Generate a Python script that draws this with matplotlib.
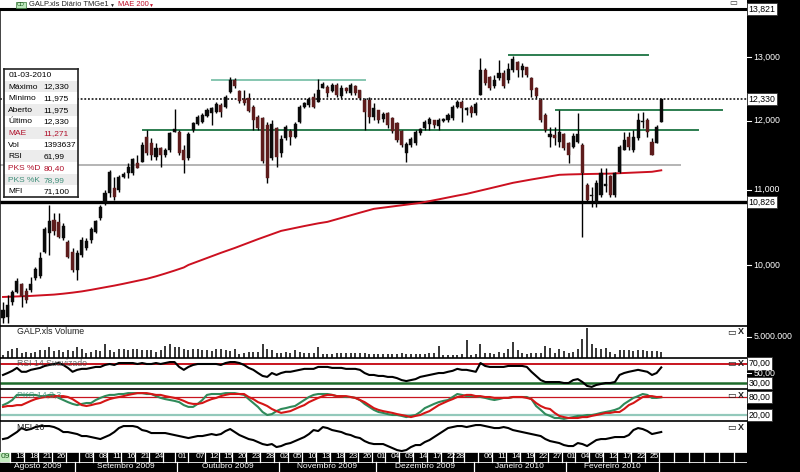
import numpy as np
import pandas as pd
import matplotlib
matplotlib.use('Agg')
import matplotlib.pyplot as plt
from matplotlib.patches import Rectangle
import matplotlib.transforms as mtransforms

plt.rcParams['font.family'] = ['Liberation Sans', 'DejaVu Sans']

# ---------------- data ----------------
opens = [9.351, 9.363, 9.543, 9.664, 9.762, 9.677, 9.689, 9.837, 9.862, 10.166,
         10.413, 10.586, 10.559, 10.347, 10.295, 10.166, 9.937, 10.127, 10.217, 10.321,
         10.426, 10.613, 10.830, 10.955, 11.024, 10.996, 11.179, 11.236, 11.236, 11.378,
         11.392, 11.759, 11.669, 11.465, 11.596, 11.494, 11.567, 11.834, 11.834, 11.567,
         11.450, 11.864, 11.954, 11.984, 12.076, 12.122, 12.137, 12.245, 12.214, 12.448,
         12.639, 12.464, 12.339, 12.354, 12.214, 12.060, 12.045, 11.939, 11.450, 11.894,
         11.523, 11.744, 11.849, 11.759, 11.984, 12.214, 12.245, 12.370, 12.292, 12.511,
         12.527, 12.464, 12.559, 12.386, 12.511, 12.432, 12.543, 12.480, 12.323, 12.323,
         12.060, 12.168, 12.030, 12.122, 12.045, 11.969, 11.849, 11.523, 11.640, 11.669,
         11.819, 11.894, 11.954, 12.014, 11.924, 11.999, 12.014, 12.045, 12.214, 12.292,
         12.168, 12.214, 12.122, 12.401, 12.800, 12.687, 12.543, 12.671, 12.752, 12.639,
         12.800, 12.930, 12.800, 12.849, 12.671, 12.511, 12.323, 12.091, 11.759, 11.789,
         11.684, 11.804, 11.669, 11.611, 11.684, 11.640, 11.066, 10.913, 10.817, 10.927,
         11.052, 11.193, 10.927, 11.250, 11.567, 11.759, 11.567, 11.744, 11.984, 12.014,
         11.684, 11.669, 11.975]
highs = [9.543, 9.627, 9.689, 9.837, 9.775, 9.713, 9.849, 9.975, 10.166, 10.493,
         10.789, 10.680, 10.680, 10.546, 10.321, 10.217, 10.192, 10.360, 10.347, 10.493,
         10.586, 10.789, 10.996, 11.278, 11.179, 11.207, 11.250, 11.378, 11.450, 11.494,
         11.684, 11.864, 11.744, 11.669, 11.611, 11.596, 11.834, 12.183, 11.864, 11.640,
         11.834, 11.984, 12.091, 12.122, 12.199, 12.214, 12.292, 12.276, 12.401, 12.687,
         12.671, 12.480, 12.480, 12.432, 12.245, 12.091, 12.060, 11.984, 12.014, 11.909,
         11.789, 11.939, 11.879, 11.984, 12.245, 12.292, 12.370, 12.432, 12.655, 12.607,
         12.559, 12.591, 12.591, 12.559, 12.527, 12.591, 12.559, 12.480, 12.354, 12.370,
         12.276, 12.168, 12.137, 12.137, 12.060, 11.984, 11.864, 11.684, 11.759, 11.864,
         11.894, 12.014, 12.060, 12.014, 12.045, 12.045, 12.122, 12.245, 12.323, 12.323,
         12.214, 12.245, 12.292, 12.996, 12.833, 12.703, 12.719, 12.963, 12.800, 12.914,
         13.029, 12.946, 12.914, 12.849, 12.687, 12.527, 12.354, 12.122, 11.909, 11.909,
         12.168, 11.819, 11.684, 11.819, 12.122, 11.669, 11.094, 11.038, 11.136, 11.306,
         11.306, 11.207, 11.250, 11.640, 11.834, 11.834, 11.864, 12.122, 12.137, 12.045,
         11.744, 11.939, 12.330]
lows = [9.291, 9.291, 9.506, 9.652, 9.482, 9.530, 9.664, 9.812, 9.837, 10.153,
        10.127, 10.387, 10.347, 10.321, 10.088, 9.912, 9.812, 10.101, 10.192, 10.282,
        10.413, 10.586, 10.789, 10.899, 10.858, 10.968, 11.165, 11.165, 11.207, 11.306,
        11.392, 11.494, 11.421, 11.421, 11.320, 11.465, 11.538, 11.834, 11.494, 11.235,
        11.421, 11.834, 11.939, 11.969, 12.060, 11.939, 12.122, 12.060, 12.199, 12.432,
        12.511, 12.276, 12.245, 12.137, 11.864, 11.864, 11.378, 11.094, 11.421, 11.320,
        11.465, 11.714, 11.640, 11.744, 11.969, 12.199, 12.214, 12.199, 12.292, 12.511,
        12.370, 12.448, 12.370, 12.354, 12.432, 12.401, 12.401, 12.323, 11.864, 11.969,
        12.014, 11.969, 11.984, 11.894, 11.819, 11.684, 11.611, 11.392, 11.611, 11.640,
        11.789, 11.864, 11.864, 11.894, 11.864, 11.984, 11.984, 12.014, 12.199, 11.984,
        12.091, 12.060, 12.091, 12.401, 12.559, 12.480, 12.511, 12.639, 12.511, 12.591,
        12.768, 12.687, 12.687, 12.687, 12.370, 12.354, 11.984, 11.834, 11.611, 11.640,
        11.611, 11.567, 11.378, 11.596, 11.669, 10.360, 10.830, 10.762, 10.762, 10.899,
        10.968, 10.899, 10.899, 11.235, 11.567, 11.567, 11.538, 11.714, 11.894, 11.759,
        11.494, 11.669, 11.975]
closes = [9.446, 9.506, 9.664, 9.800, 9.615, 9.567, 9.762, 9.950, 10.088, 10.466,
          10.573, 10.440, 10.360, 10.506, 10.101, 9.937, 10.153, 10.321, 10.308, 10.466,
          10.573, 10.762, 10.955, 11.250, 10.899, 11.179, 11.221, 11.320, 11.435, 11.306,
          11.640, 11.523, 11.494, 11.596, 11.494, 11.567, 11.819, 11.879, 11.523, 11.421,
          11.804, 11.969, 12.060, 12.091, 12.168, 12.199, 12.261, 12.137, 12.370, 12.639,
          12.543, 12.307, 12.276, 12.152, 12.014, 11.894, 11.407, 11.165, 11.954, 11.465,
          11.729, 11.909, 11.759, 11.954, 12.214, 12.276, 12.339, 12.214, 12.480, 12.575,
          12.432, 12.559, 12.401, 12.511, 12.464, 12.559, 12.432, 12.354, 12.137, 12.060,
          12.199, 12.014, 12.106, 11.939, 11.849, 11.714, 11.640, 11.655, 11.729, 11.834,
          11.879, 11.984, 12.030, 11.939, 12.014, 12.030, 12.091, 12.214, 12.292, 12.199,
          12.199, 12.122, 12.261, 12.800, 12.591, 12.511, 12.639, 12.752, 12.543, 12.816,
          12.979, 12.800, 12.865, 12.719, 12.480, 12.386, 12.014, 11.864, 11.804, 11.744,
          11.834, 11.596, 11.494, 11.774, 11.804, 11.235, 10.858, 10.927, 11.094, 11.235,
          11.080, 10.927, 11.235, 11.611, 11.714, 11.611, 11.759, 12.014, 11.999, 11.834,
          11.494, 11.909, 12.330]
mae200 = [9.603, 9.605, 9.607, 9.609, 9.611, 9.613, 9.616, 9.619, 9.622, 9.625,
          9.627, 9.632, 9.637, 9.643, 9.649, 9.656, 9.663, 9.671, 9.680, 9.690,
          9.701, 9.711, 9.721, 9.731, 9.742, 9.753, 9.765, 9.777, 9.789, 9.800,
          9.812, 9.826, 9.841, 9.857, 9.874, 9.892, 9.910, 9.929, 9.948, 9.968,
          10.000, 10.022, 10.044, 10.066, 10.088, 10.110, 10.132, 10.154, 10.175, 10.196,
          10.217, 10.240, 10.263, 10.286, 10.309, 10.331, 10.353, 10.375, 10.397, 10.419,
          10.440, 10.453, 10.466, 10.479, 10.492, 10.504, 10.516, 10.528, 10.540, 10.550,
          10.560, 10.578, 10.595, 10.612, 10.630, 10.648, 10.665, 10.683, 10.700, 10.718,
          10.735, 10.743, 10.751, 10.759, 10.767, 10.775, 10.783, 10.792, 10.800, 10.808,
          10.816, 10.828, 10.840, 10.852, 10.865, 10.878, 10.891, 10.904, 10.916, 10.928,
          10.940, 10.955, 10.970, 10.985, 11.000, 11.015, 11.031, 11.047, 11.063, 11.078,
          11.094, 11.106, 11.118, 11.130, 11.141, 11.152, 11.163, 11.175, 11.186, 11.197,
          11.207, 11.210, 11.212, 11.214, 11.216, 11.217, 11.218, 11.219, 11.220, 11.221,
          11.222, 11.224, 11.227, 11.230, 11.233, 11.236, 11.239, 11.242, 11.245, 11.248,
          11.250, 11.260, 11.271]
volume_m = [0.8, 1.7, 2.1, 2.3, 1.25, 1.5, 1.25, 1.5, 1.8, 1.8,
            2.5, 1.7, 1.8, 1.5, 1.8, 1.7, 2.5, 2.1, 1.25, 1.5,
            1.8, 1.7, 3.2, 1.8, 1.5, 2.1, 2.1, 1.8, 2.1, 2.1,
            1.8, 1.8, 1.8, 1.5, 1.8, 2.9, 3.2, 2.7, 2.5, 2.1,
            1.8, 2.1, 2.1, 1.8, 1.8, 1.7, 2.1, 2.1, 1.8, 1.7,
            2.1, 1.0, 1.25, 1.5, 1.5, 1.5, 3.3, 2.1, 1.8, 1.25,
            1.25, 1.5, 1.25, 1.8, 1.5, 1.25, 1.25, 1.25, 2.5, 1.0,
            1.0, 1.0, 1.25, 1.25, 1.25, 1.25, 1.25, 1.25, 1.25, 1.0,
            1.0, 1.0, 1.0, 1.0, 1.0, 1.0, 1.25, 1.0, 1.0, 1.0,
            1.0, 1.0, 1.25, 1.25, 2.9, 0.8, 0.7, 0.8, 0.8, 1.0,
            4.2, 0.7, 1.0, 3.2, 1.25, 1.25, 1.0, 1.5, 1.25, 2.1,
            3.75, 1.8, 1.25, 1.0, 1.25, 1.25, 1.25, 2.9, 2.3, 1.25,
            2.1, 1.7, 1.25, 1.5, 2.1, 4.6, 7.1, 3.2, 2.3, 2.1,
            2.3, 1.5, 1.0, 1.8, 1.8, 1.8, 1.7, 1.8, 1.8, 1.7,
            1.7, 1.7, 1.393637]
rsi = [46.5, 50.5, 55, 61, 53, 53, 57, 59, 61, 65,
       67, 69, 71, 67, 61, 53, 57, 59, 59, 61,
       63, 63, 67, 69, 67, 71, 71, 71, 71, 69,
       71, 69, 69, 71, 69, 71, 73, 73, 63, 57,
       63, 67, 69, 69, 69, 69, 69, 67, 71, 73,
       73, 71, 67, 61, 57, 50.5, 44.5, 42.5, 50.5, 46.5,
       50.5, 53, 53, 55, 57, 59, 59, 59, 63, 63,
       63, 61, 61, 61, 59, 59, 59, 57, 50.5, 46.5,
       46.5, 44.5, 44.5, 42.5, 42.5, 40, 36, 34, 36, 38,
       42.5, 44.5, 46.5, 48.5, 50.5, 50.5, 53, 55, 59, 57,
       57, 55, 53, 71, 65, 63, 63, 63, 63, 65,
       65, 65, 65, 63, 53, 44.5, 36, 32, 32, 32,
       32, 30, 30, 36, 38, 32, 24, 22, 26, 28,
       30, 30, 32, 46.5, 50.5, 53, 55, 57, 55, 53,
       46.5, 50.5, 61.99]
pks_k = [53, 60, 70, 87, 87, 87, 87, 87, 83, 83,
         87, 87, 77, 70, 63, 57, 53, 57, 60, 60,
         70, 77, 83, 87, 87, 90, 90, 93, 93, 93,
         93, 90, 90, 83, 77, 73, 70, 67, 63, 53,
         47, 47, 57, 70, 87, 90, 90, 90, 93, 93,
         93, 90, 87, 73, 60, 47, 30, 20, 23, 33,
         40, 43, 47, 50, 60, 70, 80, 87, 90, 90,
         90, 87, 83, 83, 80, 80, 77, 70, 57, 47,
         37, 30, 27, 23, 20, 20, 17, 13, 17, 20,
         30, 43, 50, 57, 63, 67, 70, 80, 90, 87,
         83, 83, 83, 80, 77, 73, 70, 73, 77, 77,
         80, 80, 80, 80, 73, 50, 37, 23, 17, 10,
         10, 7, 10, 13, 17, 17, 20, 20, 23, 27,
         30, 33, 37, 43, 57, 67, 77, 83, 90, 87,
         77, 77, 78.99]
pks_d = [47, 50, 50, 53, 53, 60, 67, 73, 77, 80,
         80, 83, 83, 83, 80, 73, 63, 53, 50, 53,
         57, 60, 67, 73, 77, 80, 83, 87, 90, 93,
         93, 93, 90, 87, 87, 83, 80, 77, 73, 67,
         60, 57, 57, 60, 67, 73, 77, 83, 87, 90,
         90, 90, 90, 80, 73, 63, 57, 50, 40, 33,
         27, 30, 33, 40, 47, 53, 63, 70, 77, 83,
         87, 87, 83, 83, 83, 80, 77, 70, 63, 53,
         43, 37, 33, 30, 27, 23, 20, 17, 13, 17,
         20, 27, 33, 43, 53, 60, 67, 73, 80, 83,
         87, 87, 83, 83, 80, 80, 77, 77, 77, 77,
         80, 80, 80, 77, 73, 60, 50, 43, 40, 27,
         17, 13, 10, 10, 10, 13, 13, 17, 20, 23,
         27, 27, 30, 30, 40, 53, 60, 70, 80, 83,
         83, 80, 80.40]
mfi = [57, 59, 65, 71, 79, 75, 77, 81, 83, 83,
       83, 81, 77, 71, 71, 69, 67, 63, 63, 61,
       59, 57, 61, 65, 71, 79, 83, 83, 83, 81,
       75, 73, 69, 69, 69, 69, 67, 65, 63, 61,
       59, 61, 63, 63, 65, 67, 65, 67, 73, 77,
       71, 65, 61, 57, 55, 51, 47, 45, 47, 41,
       43, 47, 49, 53, 57, 61, 67, 75, 73, 81,
       79, 75, 73, 71, 67, 65, 61, 59, 53, 49,
       47, 47, 47, 43, 39, 35, 33, 35, 41, 45,
       45, 51, 55, 61, 67, 73, 79, 81, 83, 83,
       81, 83, 85, 85, 83, 81, 79, 79, 81, 79,
       75, 73, 71, 69, 67, 65, 63, 57, 53, 51,
       49, 45, 43, 43, 49, 47, 43, 49, 55, 57,
       57, 59, 61, 61, 61, 65, 75, 79, 77, 73,
       67, 69, 71.1]

# horizontal study lines: level, start (bar index), end (bar index), colour
hl_levels = [12.635, 11.864, 13.037, 12.168, 11.349]
hl_start = [45.1, 30.2, 109.2, 119.3, -0.65]
hl_end = [78.1, 150.0, 139.2, 155.1, 146.1]
hl_colors = ['#86c6b0', '#2c7d50', '#2c7d50', '#2c7d50', '#b4b4b4']
ref_level = 10.826        # thick reference line
scale_top = 13.821

day_labels = [('2009-08-10', '09'), ('2009-08-13', '13'), ('2009-08-18', '18'), ('2009-08-21', '21'),
              ('2009-08-26', '26'), ('2009-08-31', ''), ('2009-09-03', '03'), ('2009-09-08', '08'),
              ('2009-09-11', '11'), ('2009-09-16', '16'), ('2009-09-21', '21'), ('2009-09-24', '24'),
              ('2009-09-29', ''), ('2009-10-01', '01'), ('2009-10-07', '07'), ('2009-10-12', '12'),
              ('2009-10-15', '15'), ('2009-10-20', '20'), ('2009-10-23', '23'), ('2009-10-28', '28'),
              ('2009-11-02', '02'), ('2009-11-05', '05'), ('2009-11-10', '10'), ('2009-11-13', '13'),
              ('2009-11-18', '18'), ('2009-11-23', '23'), ('2009-11-26', '26'), ('2009-12-01', '01'),
              ('2009-12-04', '04'), ('2009-12-09', '09'), ('2009-12-14', '14'), ('2009-12-17', '17'),
              ('2009-12-22', '22'), ('2009-12-28', '28'), ('2009-12-31', ''), ('2010-01-06', '06'),
              ('2010-01-11', '11'), ('2010-01-14', '14'), ('2010-01-19', '19'), ('2010-01-22', '22'),
              ('2010-01-27', '27'), ('2010-02-01', '01'), ('2010-02-04', '04'), ('2010-02-09', '09'),
              ('2010-02-12', '12'), ('2010-02-17', '17'), ('2010-02-22', '22'), ('2010-02-25', '25')]
month_names = ['Agosto 2009', 'Setembro 2009', 'Outubro 2009', 'Novembro 2009',
               'Dezembro 2009', 'Janeiro 2010', 'Fevereiro 2010']

trading = pd.bdate_range('2009-08-10', '2010-03-01')
trading = trading.drop(pd.to_datetime(['2009-12-24', '2009-12-25', '2010-01-01']))

# ---------------- figure ----------------
W, H = 800, 472
fig = plt.figure(figsize=(8, 4.72), dpi=100, facecolor='black')


def px_axes(x0, y0, x1, y1):
    return fig.add_axes([x0 / W, 1 - y1 / H, (x1 - x0) / W, (y1 - y0) / H])


def ftext(x, y, s, **kw):
    return fig.text(x / W, 1 - y / H, s, **kw)


def comma(v, d):
    return f"{v:.{d}f}".replace('.', ',')


n = len(closes)
idx = np.arange(n)
XL = (-0.65, 160.5)
RX = 747
FS = 6.3
UP, DOWN = '#0a0a0a', '#5e1c1c'


def clean(ax, top=True, lw=1.0):
    ax.set_xlim(*XL)
    ax.set_xticks([])
    ax.set_yticks([])
    ax.set_facecolor('white')
    for s in ['right', 'bottom']:
        ax.spines[s].set_visible(False)
    ax.spines['left'].set_color('#222222')
    ax.spines['left'].set_linewidth(1.2)
    ax.spines['top'].set_visible(top)
    ax.spines['top'].set_color('black')
    ax.spines['top'].set_linewidth(lw)


def right_box(ax, v, s):
    tr = mtransforms.blended_transform_factory(ax.transAxes, ax.transData)
    ax.text(1.002, v, s, transform=tr, fontsize=FS, va='center', ha='left', color='black',
            clip_on=False, bbox=dict(boxstyle='square,pad=0.18', fc='white', ec='#333333', lw=0.6))


def right_tick(ax, v, s):
    tr = mtransforms.blended_transform_factory(ax.transAxes, ax.transData)
    ax.plot([1.0, 1.006], [v, v], transform=tr, color='white', lw=0.8, clip_on=False)
    ax.text(1.009, v, s, transform=tr, fontsize=FS, va='center', ha='left', color='white',
            clip_on=False)


# title strip
ax_t = px_axes(0, 0, RX, 9)
ax_t.set_facecolor('white')
ax_t.set_xticks([]); ax_t.set_yticks([])
for s in ax_t.spines.values():
    s.set_visible(False)
ftext(17, 5, 'CD', fontsize=4, color='#1a5a1a', va='center', ha='left',
      bbox=dict(boxstyle='square,pad=0.15', fc='#bfeabf', ec='#3a7a3a', lw=0.5))
ftext(29, 5, 'GALP.xls Diário TMGe1', fontsize=5.4, color='#222222', va='center', ha='left')
ftext(110, 5.5, '▼', fontsize=3.6, color='#222222', va='center', ha='left')
ftext(118, 5, 'MAE 200', fontsize=5.4, color='#c0102a', va='center', ha='left')
ftext(149, 5.5, '▼', fontsize=3.6, color='#c0102a', va='center', ha='left')
ftext(733, 4, '▭', fontsize=6, color='#333333', va='center', ha='center')

# price panel
ax_p = px_axes(0, 9, RX, 326)
clean(ax_p, top=True, lw=2.2)
ax_p.set_yscale('log')
ax_p.set_ylim(9.257, scale_top)
ax_p.minorticks_off()
ax_p.set_yticks([])

for lv, a, b, c in zip(hl_levels, hl_start, hl_end, hl_colors):
    ax_p.plot([a, b], [lv, lv], color=c, lw=1.4, zorder=1)
ax_p.axhline(ref_level, color='black', lw=2.4, zorder=1)
ax_p.axhline(closes[-1], color='black', lw=1.1, ls=(0, (1.2, 1.2)), zorder=1)
ax_p.plot(idx, mae200, color='#cc1020', lw=1.4, zorder=2)

for i in range(n):
    o, h, l, c = opens[i], highs[i], lows[i], closes[i]
    col = UP if c >= o else DOWN
    ax_p.vlines(i, l, h, color='black', lw=1.0, zorder=3)
    lo, hi = min(o, c), max(o, c)
    if hi - lo < 0.004:
        ax_p.hlines(o, i - 0.33, i + 0.33, color='black', lw=1.0, zorder=4)
    else:
        ax_p.add_patch(Rectangle((i - 0.33, lo), 0.66, hi - lo, fc=col, ec=col, lw=0.3, zorder=4))

for v in [10, 11, 12, 13]:
    right_tick(ax_p, v, comma(v, 3))
right_box(ax_p, scale_top, comma(scale_top, 3))
right_box(ax_p, closes[-1], comma(closes[-1], 3))
right_box(ax_p, ref_level, comma(ref_level, 3))

# info box
ax_i = px_axes(4, 69, 78, 197)
ax_i.set_xlim(0, 1); ax_i.set_ylim(11, 0)
ax_i.set_xticks([]); ax_i.set_yticks([])
for s in ax_i.spines.values():
    s.set_color('#222222'); s.set_linewidth(1.2)
rows = [(trading[-1].strftime('%d-%m-%Y'), '', 'black'),
        ('Máximo', comma(highs[-1], 3), 'black'),
        ('Mínimo', comma(lows[-1], 3), 'black'),
        ('Aberto', comma(opens[-1], 3), 'black'),
        ('Último', comma(closes[-1], 3), 'black'),
        ('MAE', comma(mae200[-1], 3), '#b0102a'),
        ('Vol', f"{round(volume_m[-1] * 1e6):d}", 'black'),
        ('RSI', comma(rsi[-1], 2), 'black'),
        ('PKS %D', comma(pks_d[-1], 2), '#b0102a'),
        ('PKS %K', comma(pks_k[-1], 2), '#3f8f7a'),
        ('MFI', comma(mfi[-1], 3), 'black')]
for r, (lab, val, col) in enumerate(rows):
    if r % 2 == 1:
        ax_i.add_patch(Rectangle((0, r), 1, 1, fc='#ececec', ec='none'))
    ax_i.text(0.06, r + 0.55, lab, fontsize=6.0, color=col, va='center', ha='left')
    ax_i.text(0.53, r + 0.55, val, fontsize=6.0, color=col, va='center', ha='left')

# volume panel
ax_v = px_axes(0, 326, RX, 358)
clean(ax_v, lw=1.2)
ax_v.set_ylim(0, 7.56)
ax_v.vlines(idx, 0, volume_m, color='black', lw=1.1)
right_tick(ax_v, 5.0, f"{5000000:,}".replace(',', '.'))

# RSI panel
ax_r = px_axes(0, 358, RX, 389)
clean(ax_r, lw=1.2)
ax_r.set_ylim(17.7, 81.3)
ax_r.axhline(70, color='#c8141e', lw=1.4)
ax_r.axhline(30, color='#1d6a2a', lw=1.8)
ax_r.plot(idx, rsi, color='black', lw=1.5)
right_box(ax_r, 70, '70,00')
right_tick(ax_r, 50, '50,00')
right_box(ax_r, 30, '30,00')

# stochastic panel
ax_s = px_axes(0, 389, RX, 421)
clean(ax_s, lw=1.2)
ax_s.set_ylim(0, 106.7)
ax_s.axhline(80, color='#c8141e', lw=0.9)
ax_s.axhline(20, color='#93c9bb', lw=1.6)
ax_s.plot(idx, pks_k, color='#2f8a5a', lw=1.5)
ax_s.plot(idx, pks_d, color='#d41616', lw=1.5)
right_box(ax_s, 80, '80,00')
right_box(ax_s, 20, '20,00')

# MFI panel
ax_m = px_axes(0, 421, RX, 452)
clean(ax_m, lw=1.2)
ax_m.set_ylim(31.1, 93.1)
ax_m.plot(idx, mfi, color='black', lw=1.5)

# panel captions and icons
ftext(17, 332, 'GALP.xls Volume', fontsize=FS, color='#222222', va='center', ha='left')
ftext(17, 363, 'RSI 14 Suavizado', fontsize=FS, color='#444444', va='center', ha='left', alpha=0.8)
ftext(17, 395, 'PKS 14,3,3', fontsize=FS, color='#3f8f7a', va='center', ha='left', alpha=0.8)
ftext(17, 427, 'MFI 10', fontsize=FS, color='#222222', va='center', ha='left')
for yy in [332, 363, 395, 427]:
    ftext(731, yy, '▭', fontsize=6.5, color='#222222', va='center', ha='center')
    ftext(741, yy, 'X', fontsize=6.5, color='#222222', va='center', ha='center', weight='bold')

# date axis
ax_d = px_axes(0, 452, RX, 472)
ax_d.set_xlim(*XL); ax_d.set_ylim(0, 2)
ax_d.set_facecolor('black')
ax_d.set_xticks([]); ax_d.set_yticks([])
for s in ax_d.spines.values():
    s.set_visible(False)
pos = [trading.get_loc(pd.Timestamp(d)) for d, _ in day_labels]
labs = [t for _, t in day_labels]
extra = list(np.arange(pos[-1] + 3.2, XL[1], 3.2))
allpos = pos + extra
bounds = [XL[0]] + [(allpos[k - 1] + allpos[k]) / 2 for k in range(1, len(allpos))] + [XL[1]]
ax_d.add_patch(Rectangle((XL[0], 1.02), bounds[1] - XL[0], 0.96, fc='#c4ecc0', ec='none'))
for b in bounds[1:-1]:
    ax_d.plot([b, b], [1.0, 2.0], color='white', lw=0.9)
ax_d.plot([XL[0], XL[1]], [1.0, 1.0], color='white', lw=0.6)
ax_d.plot([XL[0], XL[1]], [1.98, 1.98], color='white', lw=0.6)
for k, (p, t) in enumerate(zip(pos, labs)):
    ax_d.text(p + 0.6, 1.5, t, fontsize=6, color='#1a5a1a' if k == 0 else 'white',
              va='center', ha='center')
month_start = [0] + [i for i in range(1, n) if trading[i].month != trading[i - 1].month]
for k, name in enumerate(month_names):
    a = month_start[k]
    b = month_start[k + 1] if k + 1 < len(month_start) else n
    ax_d.text((a + b - 1) / 2, 0.5, name, fontsize=6, color='white', va='center', ha='center')
for a in month_start[1:]:
    ax_d.plot([a - 0.5, a - 0.5], [0, 1], color='white', lw=0.9)

fig.savefig('out.png', dpi=100, facecolor='black')
